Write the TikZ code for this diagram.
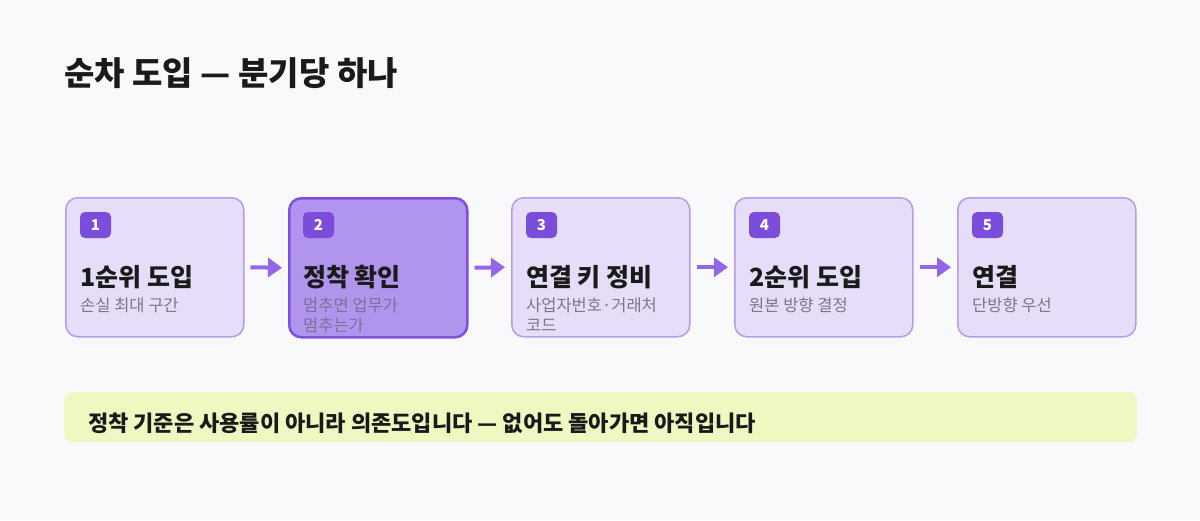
\documentclass[tikz,border=0pt]{standalone}
\usepackage{fontspec}
\setmainfont{Noto Sans CJK KR}
\usepackage{xcolor}
\usetikzlibrary{positioning, calc, arrows.meta}

\definecolor{pagebg}{HTML}{F9F9FC}
\definecolor{stagefill}{HTML}{E6DEF8}
\definecolor{stageline}{HTML}{B89CEC}
\definecolor{hotfill}{HTML}{B194EE}
\definecolor{hotline}{HTML}{7E50E0}
\definecolor{badgefill}{HTML}{7C4DDB}
\definecolor{flowcol}{HTML}{9266E6}
\definecolor{subgray}{HTML}{7A7885}
\definecolor{notefill}{HTML}{F0F8C2}
\definecolor{inkcol}{HTML}{1A1A1A}

\tikzset{
  stage/.style={draw=stageline, line width=1.5pt, fill=stagefill, rounded corners=12pt,
    minimum width=178pt, minimum height=139pt, anchor=north west, inner sep=0pt},
  hotstage/.style={stage, draw=hotline, line width=2.5pt, fill=hotfill},
  badge/.style={fill=badgefill, rounded corners=5pt, minimum width=31pt, minimum height=26pt,
    inner sep=0pt, text=white, font=\fontsize{15}{15}\selectfont\bfseries},
  stagettl/.style={anchor=base west, inner sep=0pt, text=inkcol,
    font=\fontsize{25}{28}\selectfont\bfseries},
  stagesub/.style={anchor=north west, inner sep=0pt, text=subgray, align=left,
    font=\fontsize{16.5}{20}\selectfont},
  flow/.style={draw=flowcol, line width=4pt, -{Triangle[length=14pt,width=19pt]}}
}

\begin{document}
\begin{tikzpicture}[x=1pt, y=-1pt]
  \fill[pagebg] (0,0) rectangle (1200,520);
  \useasboundingbox (0,0) rectangle (1200,520);

  \node[anchor=base west, inner sep=0pt, text=inkcol, font=\fontsize{33}{36}\selectfont\bfseries]
    (title) at (64,85) {순차 도입 — 분기당 하나};

  % stages
  \node[stage] (s1) at (65,197) {};
  \node[hotstage] (s2) at (288,197) {};
  \node[stage] (s3) at (511,197) {};
  \node[stage] (s4) at (734,197) {};
  \node[stage] (s5) at (957,197) {};

  \node[badge] (b1) at ($(s1.north west)+(30.5,28)$) {1};
  \node[badge] (b2) at ($(s2.north west)+(30.5,28)$) {2};
  \node[badge] (b3) at ($(s3.north west)+(30.5,28)$) {3};
  \node[badge] (b4) at ($(s4.north west)+(30.5,28)$) {4};
  \node[badge] (b5) at ($(s5.north west)+(30.5,28)$) {5};

  \node[stagettl] (t1) at ($(s1.north west)+(15,89)$) {1순위 도입};
  \node[stagettl] (t2) at ($(s2.north west)+(15,89)$) {정착 확인};
  \node[stagettl] (t3) at ($(s3.north west)+(15,89)$) {연결 키 정비};
  \node[stagettl] (t4) at ($(s4.north west)+(15,89)$) {2순위 도입};
  \node[stagettl] (t5) at ($(s5.north west)+(15,89)$) {연결};

  \node[stagesub] (d1) at ($(s1.north west)+(15,100.5)$) {손실 최대 구간};
  \node[stagesub, text=subgray!85!hotline] (d2) at ($(s2.north west)+(15,100.5)$) {멈추면 업무가\\멈추는가};
  \node[stagesub] (d3) at ($(s3.north west)+(15,100.5)$) {사업자번호·거래처\\코드};
  \node[stagesub] (d4) at ($(s4.north west)+(15,100.5)$) {원본 방향 결정};
  \node[stagesub] (d5) at ($(s5.north west)+(15,100.5)$) {단방향 우선};

  \draw[flow] ([xshift=6pt]s1.east) -- ([xshift=-6pt]s2.west);
  \draw[flow] ([xshift=6pt]s2.east) -- ([xshift=-6pt]s3.west);
  \draw[flow] ([xshift=6pt]s3.east) -- ([xshift=-6pt]s4.west);
  \draw[flow] ([xshift=6pt]s4.east) -- ([xshift=-6pt]s5.west);

  % note
  \node[fill=notefill, rounded corners=8pt, minimum width=1073pt, minimum height=50pt,
    anchor=north west, inner sep=0pt] (note) at (64,392) {};
  \node[anchor=west, inner sep=0pt, text=inkcol, font=\fontsize{22}{24}\selectfont\bfseries]
    (notetxt) at ($(note.west)+(24,6)$) {정착 기준은 사용률이 아니라 의존도입니다 — 없어도 돌아가면 아직입니다};
\end{tikzpicture}
\end{document}
